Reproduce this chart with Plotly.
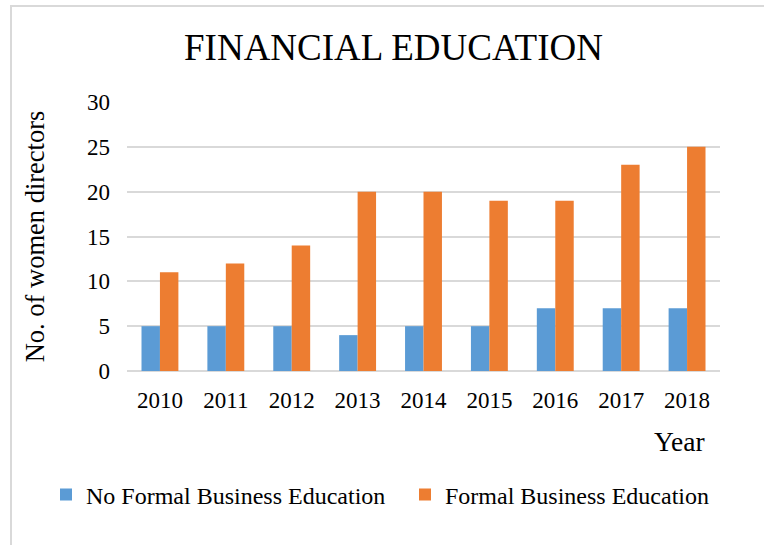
import plotly.graph_objects as go

years = ["2010", "2011", "2012", "2013", "2014", "2015", "2016", "2017", "2018"]
no_formal = [5, 5, 5, 4, 5, 5, 7, 7, 7]
formal = [11, 12, 14, 20, 20, 19, 19, 23, 25]

W, H = 764, 545
L, R, T, B = 127, 44, 102, 174
pw, ph = W - L - R, H - T - B

FONT = "Liberation Serif, Times New Roman, serif"

fig = go.Figure()
fig.add_bar(x=years, y=no_formal, name="No Formal Business Education",
            marker=dict(color="#5b9bd5", line=dict(width=0)), legend="legend")
fig.add_bar(x=years, y=formal, name="Formal Business Education",
            marker=dict(color="#ed7d31", line=dict(width=0)), legend="legend2")

def px_x(x):
    return (x - L) / pw

def px_y(y):
    return (H - B - y) / ph

leg_common = dict(orientation="h", yanchor="middle", y=px_y(495), xanchor="left",
                  font=dict(family=FONT, size=24, color="black"), itemwidth=30,
                  bgcolor="rgba(0,0,0,0)", borderwidth=0)

fig.update_layout(
    width=W, height=H,
    margin=dict(l=L, r=R, t=T, b=B),
    paper_bgcolor="white", plot_bgcolor="white",
    font=dict(family=FONT, size=23, color="black"),
    barmode="group", bargap=0.44, bargroupgap=0,
    title=dict(text="FINANCIAL EDUCATION", x=393.5 / W, xanchor="center",
               y=1 - 47 / H, yanchor="middle",
               font=dict(family=FONT, size=37, color="black")),
    xaxis=dict(showgrid=False, showline=False, ticks="", ticklabelstandoff=13,
               tickfont=dict(size=23)),
    yaxis=dict(range=[0, 30], dtick=5, showgrid=True, gridcolor="#d9d9d9", gridwidth=2,
               zeroline=True, zerolinecolor="#d9d9d9", zerolinewidth=2,
               showline=False, ticks="", ticklabelstandoff=16,
               tickfont=dict(size=23),
               title=dict(text="No. of women directors", standoff=34,
                          font=dict(size=26.5))),
    legend=dict(x=px_x(46), **leg_common),
    legend2=dict(x=px_x(405), **leg_common),
    showlegend=True,
    annotations=[dict(text="Year", xref="paper", yref="paper",
                      x=px_x(707), xanchor="right", y=px_y(441), yanchor="middle",
                      showarrow=False, font=dict(family=FONT, size=27.5, color="black"))],
    shapes=[dict(type="rect", xref="paper", yref="paper",
                 x0=px_x(11), x1=px_x(780), y0=px_y(560), y1=px_y(6),
                 line=dict(color="#d9d9d9", width=2), fillcolor="rgba(0,0,0,0)",
                 layer="below")],
)

fig.write_html("out.html")
